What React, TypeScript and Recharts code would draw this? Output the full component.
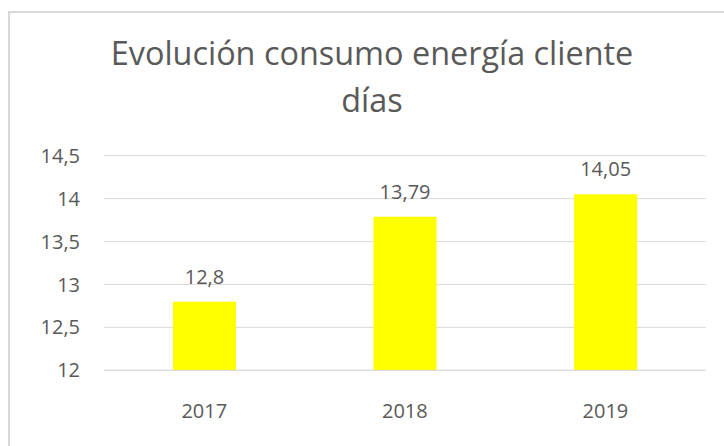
import * as React from 'react';
import { BarChart, Bar, XAxis, YAxis, CartesianGrid, LabelList } from 'recharts';

const years = ['2017', '2018', '2019'];
const consumo = [12.8, 13.79, 14.05];
const yTicks = [12, 12.5, 13, 13.5, 14, 14.5];

const data = years.map((year, i) => ({ year, consumo: consumo[i] }));

const font = '"Open Sans", sans-serif';
const textColor = '#595959';
const gridColor = '#d9d9d9';
const fmt = (v: number) => String(v).replace('.', ',');

export default function App() {
  return (
    <div
      style={{
        position: 'absolute',
        left: 0,
        top: 0,
        width: 724,
        height: 446,
        overflow: 'hidden',
        background: '#fff',
        fontFamily: font,
      }}
    >
      {/* chart frame, only top and left edges are visible */}
      <div
        style={{
          position: 'absolute',
          left: 8,
          top: 11,
          width: 800,
          height: 500,
          borderLeft: `2px solid ${gridColor}`,
          borderTop: `2px solid ${gridColor}`,
        }}
      />
      <div
        style={{
          position: 'absolute',
          left: 72,
          width: 600,
          top: 0,
          textAlign: 'center',
          color: textColor,
          fontSize: 32.4,
        }}
      >
        <div style={{ position: 'absolute', left: 0, right: 0, top: 65 - 31.6, lineHeight: '38px' }}>
          Evolución consumo energía cliente
        </div>
        <div style={{ position: 'absolute', left: 0, right: 0, top: 112 - 31.6, lineHeight: '38px' }}>
          días
        </div>
      </div>
      <div style={{ position: 'absolute', left: 0, top: 0 }}>
        <BarChart
          width={724}
          height={446}
          data={data}
          margin={{ top: 155.7, right: 18.3, bottom: 15.7, left: 0 }}
        >
          <CartesianGrid vertical={false} stroke={gridColor} />
          <XAxis
            dataKey="year"
            height={60}
            axisLine={{ stroke: gridColor }}
            tickLine={false}
            tickMargin={27}
            tick={{ fill: textColor, fontSize: 20, fontFamily: font }}
          />
          <YAxis
            width={104}
            domain={[12, 14.5]}
            ticks={yTicks}
            axisLine={false}
            tickLine={false}
            tickMargin={18}
            tickFormatter={fmt}
            tick={{ fill: textColor, fontSize: 20, fontFamily: font }}
          />
          <Bar dataKey="consumo" fill="#ffff00" barSize={63} isAnimationActive={false}>
            <LabelList
              dataKey="consumo"
              position="top"
              offset={18}
              formatter={(v: any) => fmt(Number(v))}
              style={{ fill: textColor, fontSize: 20, fontFamily: font }}
            />
          </Bar>
        </BarChart>
      </div>
    </div>
  );
}
